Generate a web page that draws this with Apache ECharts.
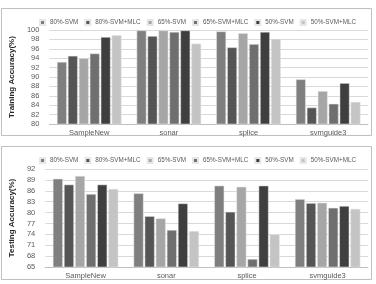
<!DOCTYPE html>
<html>
<head>
<meta charset="utf-8">
<script src="https://cdn.jsdelivr.net/npm/echarts@6/dist/echarts.min.js"></script>
<style>
  html, body { margin: 0; padding: 0; background: #fff; }
  #chart { width: 376px; height: 284px; }
</style>
</head>
<body>
<div id="chart"></div>
<script>
const datasets = ['SampleNew', 'sonar', 'splice', 'svmguide3'];
const seriesNames = ['80%-SVM', '80%-SVM+MLC', '65%-SVM', '65%-SVM+MLC', '50%-SVM', '50%-SVM+MLC'];
const colors = ['#7f7f7f', '#555555', '#a6a6a6', '#6f6f6f', '#3f3f3f', '#c4c4c4'];

// training accuracy (%), one array per method, values in dataset order
const train80 = [93.2, 99.9, 99.7, 89.5];
const train80mlc = [94.5, 98.7, 96.3, 83.5];
const train65 = [94.0, 99.9, 99.3, 87.0];
const train65mlc = [95.0, 99.6, 97.0, 84.3];
const train50 = [98.5, 99.9, 99.6, 88.7];
const train50mlc = [98.9, 97.1, 98.1, 84.7];

// testing accuracy (%)
const test80 = [89.3, 85.3, 87.4, 83.7];
const test80mlc = [87.7, 79.0, 80.2, 82.6];
const test65 = [90.1, 78.4, 87.1, 82.7];
const test65mlc = [85.1, 75.2, 67.2, 81.3];
const test50 = [87.7, 82.5, 87.4, 81.8];
const test50mlc = [86.5, 74.9, 74.0, 81.0];

const trainData = [train80, train80mlc, train65, train65mlc, train50, train50mlc];
const testData = [test80, test80mlc, test65, test65mlc, test50, test50mlc];

const font = 'Liberation Sans';
const textGray = '#595959';

function makeLegend(top) {
  return {
    top: top, left: 39, width: 336, itemWidth: 5, itemHeight: 5, itemGap: 6,
    icon: 'rect', padding: 0,
    textStyle: { fontSize: 6.3, color: textGray, fontFamily: font },
    data: seriesNames
  };
}

function makeY(idx, min, max, interval, name) {
  return {
    type: 'value', gridIndex: idx, min: min, max: max, interval: interval,
    name: name, nameLocation: 'middle', nameGap: 20, nameRotate: 90,
    nameTextStyle: { fontSize: 8, color: '#262626', fontWeight: 'bold', fontFamily: font },
    axisLine: { show: false }, axisTick: { show: false },
    axisLabel: { fontSize: 7.5, color: textGray, fontFamily: font, margin: 10 },
    splitLine: { lineStyle: { color: '#d9d9d9', width: 1 } }
  };
}

function makeX(idx) {
  return {
    type: 'category', gridIndex: idx, data: datasets,
    axisLine: { lineStyle: { color: '#bfbfbf' } }, axisTick: { show: false },
    axisLabel: { fontSize: 7.5, color: textGray, fontFamily: font, margin: 5 }
  };
}

const series = [];
[trainData, testData].forEach((group, g) => {
  group.forEach((vals, i) => {
    series.push({
      name: seriesNames[i], type: 'bar', xAxisIndex: g, yAxisIndex: g,
      data: vals, barGap: '12%', barCategoryGap: '19%',
      itemStyle: { color: colors[i], borderColor: '#e6e6e6', borderWidth: 0.5 }
    });
  });
});

const chart = echarts.init(document.getElementById('chart'), null, { renderer: 'canvas' });
chart.setOption({
  backgroundColor: '#fff',
  animation: false,
  color: colors,
  legend: [makeLegend(19), makeLegend(157)],
  grid: [
    { left: 39, right: 8, top: 30, bottom: 160 },
    { left: 39, right: 8, top: 169, bottom: 17 }
  ],
  xAxis: [makeX(0), makeX(1)],
  yAxis: [
    makeY(0, 80, 100, 2, 'Training Accuracy(%)'),
    makeY(1, 65, 92, 3, 'Testing Accuracy(%)')
  ],
  series: series,
  graphic: [
    { type: 'rect', shape: { x: 1.5, y: 8.5, width: 370, height: 127 },
      style: { fill: 'none', stroke: '#c0c0c0', lineWidth: 1 } },
    { type: 'rect', shape: { x: 1.5, y: 146.5, width: 370, height: 133 },
      style: { fill: 'none', stroke: '#c0c0c0', lineWidth: 1 } }
  ]
});
</script>
</body>
</html>
